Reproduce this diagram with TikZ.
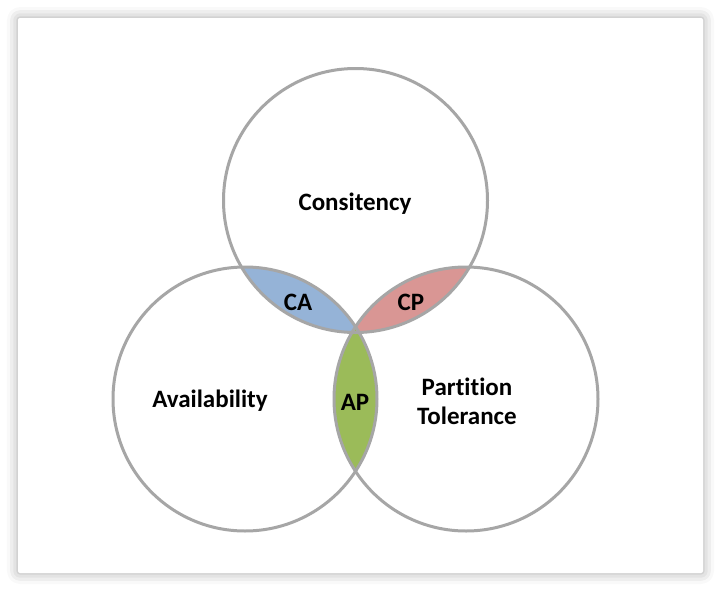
\documentclass[tikz,border=0pt]{standalone}
\usepackage{fontspec}
\setmainfont[Ligatures={NoCommon}]{Carlito}
\usetikzlibrary{shadows.blur}
\definecolor{ringgray}{HTML}{A6A6A6}
\definecolor{cablue}{HTML}{95B3D7}
\definecolor{cpred}{HTML}{D99694}
\definecolor{apgreen}{HTML}{9BBB59}

\begin{document}
\begin{tikzpicture}
[x=1pt, y=-1pt, ring/.style={circle, draw=ringgray, line width=3pt, minimum size=264pt, inner sep=0}, tag/.style={font=\fontsize{25}{29}\selectfont\bfseries, align=center}]
\useasboundingbox (0, 0) rectangle (721, 592);
\fill [white, rounded corners=2pt, blur shadow={shadow xshift=0pt, shadow yshift=0pt, shadow blur radius=11pt, shadow opacity=35}] (18, 18) rectangle (703, 573);
\coordinate (c) at (355.5, 200.5);
\coordinate (a) at (245, 399);
\coordinate (p) at (466, 399);
% overlaps
\begin{scope}
\clip (c) circle (132pt);
\fill [cablue] (a) circle (132pt);
\fill [cpred] (p) circle (132pt);
\end{scope}
\begin{scope}
\clip (a) circle (132pt);
\fill [apgreen] (p) circle (132pt);
\end{scope}
\node (cons) [ring] at (c) {};
\node (avail) [ring] at (a) {};
\node (part) [ring] at (p) {};
\node (consl) [tag] at (355, 204) {Consitency};
\node (availl) [tag] at (210, 401) {Availability};
\node (partl) [tag] at (467, 401) {Partition\\Tolerance};
\node (cal) [tag] at (298, 302) {CA};
\node (cpl) [tag] at (411, 302) {CP};
\node (apl) [tag] at (355, 402) {AP};
\end{tikzpicture}
\end{document}
